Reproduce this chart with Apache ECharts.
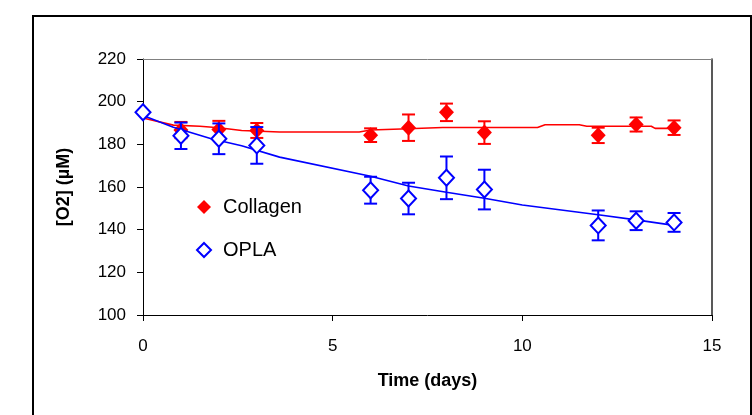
<!DOCTYPE html>
<html>
<head>
<meta charset="utf-8">
<script src="https://cdn.jsdelivr.net/npm/echarts@6/dist/echarts.min.js"></script>
<style>
html,body{margin:0;padding:0;background:#fff;}
#chart{width:752px;height:415px;}
</style>
</head>
<body>
<div id="chart"></div>
<script>
const days = [0, 1, 2, 3, 6, 7, 8, 9, 12, 13, 14];
const collagenMean = [195, 186.7, 187, 186.5, 184.3, 187.8, 195, 185.5, 184.2, 189.3, 187.8];
const collagenErr  = [0, 3.8, 4, 3.5, 3.2, 6.2, 4.1, 5.3, 3.6, 3.3, 3.4];
const oplaMean = [195, 184, 182.6, 179.5, 158.5, 154.6, 164.3, 158.8, 142, 144.2, 143.4];
const oplaErr  = [0, 6.2, 7.2, 8.6, 6.3, 7.4, 10, 9.3, 7, 4.4, 4.4];

const collagenFitX = [0, 0.8, 1.5, 2, 2.6, 3.6, 5.7, 6, 6.8, 7.9, 10.4, 10.6, 11.5, 11.7, 13.4, 13.5, 14];
const collagenFitY = [192.3, 189, 188.5, 187.8, 186.5, 185.8, 185.8, 186.7, 187.2, 187.9, 187.9, 189.2, 189.2, 188.5, 188.5, 187.5, 187.5];
const oplaFitX = [0, 0.8, 1.8, 2.6, 3.6, 6, 7, 8, 9, 10, 12, 13, 14];
const oplaFitY = [193.5, 188, 182.6, 179.3, 174, 165, 160.5, 157.5, 154.7, 151.6, 147, 144.6, 142];

const xTicks = [0, 5, 10, 15];
const yTicks = [100, 120, 140, 160, 180, 200, 220];

const FONT = '"Liberation Sans", Arial, sans-serif';

function errData(xs, m, e) {
  return xs.map((x, i) => [x, m[i] - e[i], m[i] + e[i]]);
}
function errRender(color) {
  return function (params, api) {
    const x = api.value(0);
    const lo = api.coord([x, api.value(1)]);
    const hi = api.coord([x, api.value(2)]);
    const hw = 6.5;
    const st = { stroke: color, lineWidth: 2 };
    return {
      type: 'group',
      children: [
        { type: 'line', shape: { x1: lo[0], y1: lo[1], x2: hi[0], y2: hi[1] }, style: st },
        { type: 'line', shape: { x1: lo[0] - hw, y1: lo[1], x2: lo[0] + hw, y2: lo[1] }, style: st },
        { type: 'line', shape: { x1: hi[0] - hw, y1: hi[1], x2: hi[0] + hw, y2: hi[1] }, style: st }
      ]
    };
  };
}

const chart = echarts.init(document.getElementById('chart'), null, { renderer: 'canvas' });
chart.setOption({
  animation: false,
  backgroundColor: '#fff',
  textStyle: { fontFamily: FONT },
  graphic: [{
    type: 'rect',
    shape: { x: 33, y: 16, width: 718, height: 420 },
    style: { fill: 'none', stroke: '#000', lineWidth: 2 },
    silent: true
  }],
  grid: { left: 143, right: 40, top: 59, bottom: 100, containLabel: false },
  legend: {
    orient: 'vertical',
    left: 196,
    top: 197,
    itemWidth: 14,
    itemHeight: 14,
    itemGap: 23,
    padding: 0,
    textStyle: { fontFamily: FONT, fontSize: 20, color: '#000', lineHeight: 20, padding: [0, 0, 0, 7] },
    data: [
      { name: 'Collagen', icon: 'diamond' },
      { name: 'OPLA', icon: 'diamond' }
    ]
  },
  xAxis: [{
    type: 'value',
    min: xTicks[0],
    max: xTicks[xTicks.length - 1],
    interval: 5,
    name: 'Time (days)',
    nameLocation: 'middle',
    nameGap: 57,
    nameTextStyle: { fontFamily: FONT, fontSize: 18, fontWeight: 'bold', color: '#000', verticalAlign: 'top' },
    axisLine: { show: true, onZero: false, lineStyle: { color: '#000', width: 1 } },
    axisTick: { show: true, inside: false, length: 6, lineStyle: { color: '#000' } },
    axisLabel: { fontFamily: FONT, fontSize: 17, color: '#000', margin: 23 },
    splitLine: { show: false }
  }, {
    type: 'value',
    position: 'top',
    min: 0, max: 15,
    axisLine: { show: true, onZero: false, lineStyle: { color: '#808080', width: 1 } },
    axisTick: { show: false },
    axisLabel: { show: false },
    splitLine: { show: false }
  }],
  yAxis: [{
    type: 'value',
    min: yTicks[0],
    max: yTicks[yTicks.length - 1],
    interval: 20,
    name: '[O2] (µM)',
    nameLocation: 'middle',
    nameGap: 70,
    nameRotate: 90,
    nameTextStyle: { fontFamily: FONT, fontSize: 18, fontWeight: 'bold', color: '#000' },
    axisLine: { show: true, onZero: false, lineStyle: { color: '#000', width: 1 } },
    axisTick: { show: true, inside: false, length: 6, lineStyle: { color: '#000' } },
    axisLabel: { fontFamily: FONT, fontSize: 17, color: '#000', margin: 17 },
    splitLine: { show: false }
  }, {
    type: 'value',
    position: 'right',
    min: 100, max: 220,
    axisLine: { show: true, onZero: false, lineStyle: { color: '#222', width: 1.5 } },
    axisTick: { show: false },
    axisLabel: { show: false },
    splitLine: { show: false }
  }],
  series: [
    {
      name: 'CollagenErr', type: 'custom', xAxisIndex: 0, yAxisIndex: 0,
      data: errData(days, collagenMean, collagenErr),
      renderItem: errRender('#ff0000'), z: 2
    },
    {
      name: 'CollagenFit', type: 'line', showSymbol: false, symbol: 'none',
      data: collagenFitX.map((x, i) => [x, collagenFitY[i]]),
      lineStyle: { color: '#ff0000', width: 1.6 }, z: 3
    },
    {
      name: 'Collagen', type: 'scatter',
      data: days.map((x, i) => [x, collagenMean[i]]),
      symbol: 'diamond', symbolSize: [15, 16],
      itemStyle: { color: '#ff0000', opacity: 1 }, z: 4
    },
    {
      name: 'OPLAErr', type: 'custom',
      data: errData(days, oplaMean, oplaErr),
      renderItem: errRender('#0000ff'), z: 5
    },
    {
      name: 'OPLAFit', type: 'line', showSymbol: false, symbol: 'none',
      data: oplaFitX.map((x, i) => [x, oplaFitY[i]]),
      lineStyle: { color: '#0000ff', width: 1.6 }, z: 6
    },
    {
      name: 'OPLA', type: 'scatter',
      data: days.map((x, i) => [x, oplaMean[i]]),
      symbol: 'diamond', symbolSize: [15, 16],
      itemStyle: { color: '#ffffff', borderColor: '#0000ff', borderWidth: 2, opacity: 1 }, z: 7
    }
  ]
});
</script>
</body>
</html>
